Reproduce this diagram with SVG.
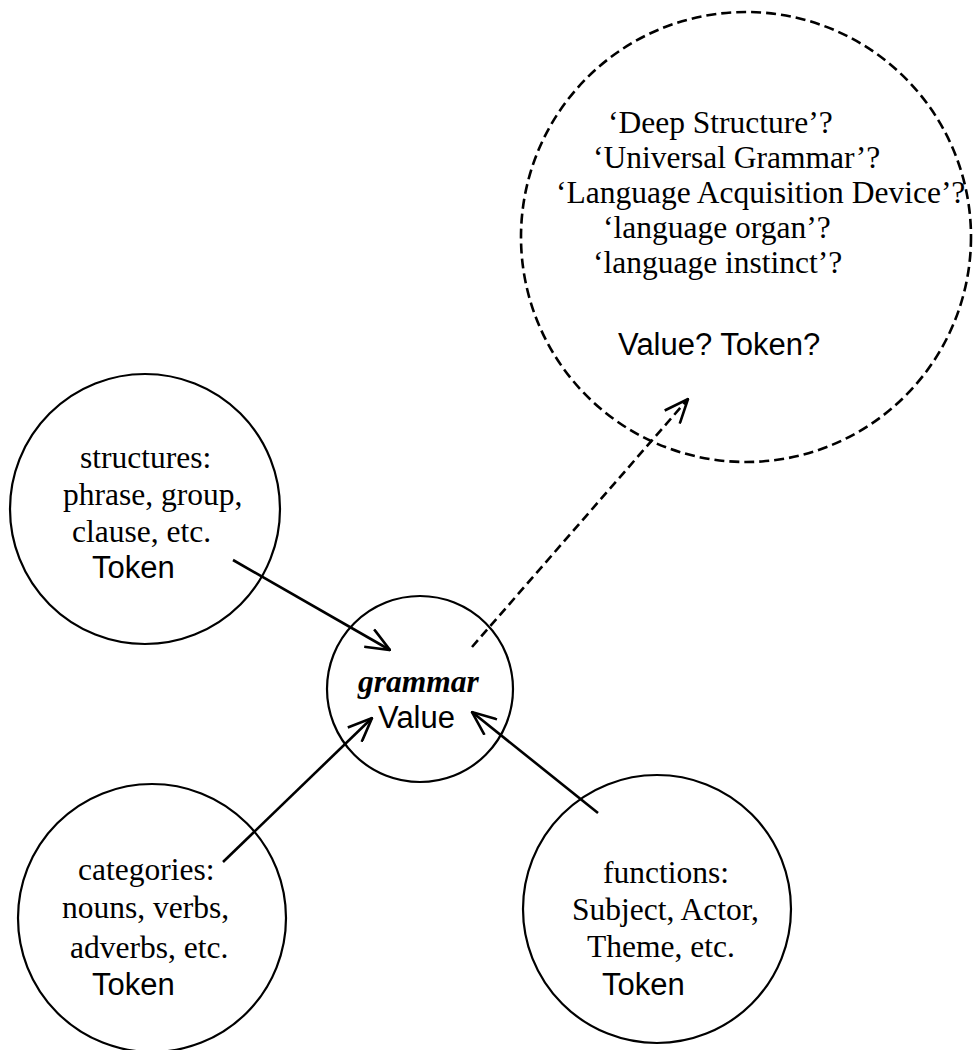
<svg xmlns="http://www.w3.org/2000/svg" width="973" height="1050" viewBox="0 0 973 1050">
<style>
.node{fill:none;stroke:#000;stroke-width:2.2}
.dnode{fill:none;stroke:#000;stroke-width:2.6;stroke-dasharray:10 5}
.serif{font-family:"Liberation Serif","Times New Roman",serif;font-size:31.5px;fill:#000}
.sans{font-family:"Liberation Sans",Arial,sans-serif;font-size:31px;fill:#000}
.bi{font-weight:bold;font-style:italic}
.conn{stroke:#000;stroke-width:2.6;fill:none;marker-end:url(#arr)}
.dconn{stroke:#000;stroke-width:2.6;fill:none;stroke-dasharray:9 5;marker-end:url(#arr)}
</style>
<defs>
<marker id="arr" viewBox="0 0 26 22" refX="25" refY="11" markerWidth="26" markerHeight="22" markerUnits="userSpaceOnUse" orient="auto">
<path d="M1,1 L25,11 L1,21" fill="none" stroke="#000" stroke-width="2.6"/>
</marker>
</defs>
<rect width="973" height="1050" fill="#fff"/>
<g id="connectors">
<line class="conn" x1="233" y1="560" x2="390" y2="650"/>
<line class="conn" x1="223" y1="862" x2="372" y2="718"/>
<line class="conn" x1="598" y1="813" x2="472" y2="712"/>
<line class="dconn" x1="472" y1="647" x2="688" y2="399"/>
</g>
<g id="node-ug">
<circle class="dnode" cx="746" cy="237" r="225"/>
<text class="serif" x="608" y="133">‘Deep Structure’?</text>
<text class="serif" x="593" y="168">‘Universal Grammar’?</text>
<text class="serif" x="556" y="203">‘Language Acquisition Device’?</text>
<text class="serif" x="603" y="238">‘language organ’?</text>
<text class="serif" x="593" y="273">‘language instinct’?</text>
<text class="sans" x="618" y="355">Value? Token?</text>
</g>
<g id="node-structures">
<circle class="node" cx="145" cy="509" r="135"/>
<text class="serif" x="80" y="468">structures:</text>
<text class="serif" x="63" y="505">phrase, group,</text>
<text class="serif" x="72" y="542">clause, etc.</text>
<text class="sans" x="92" y="578">Token</text>
</g>
<g id="node-grammar">
<circle class="node" cx="420" cy="689" r="93"/>
<text class="serif bi" x="358" y="692">grammar</text>
<text class="sans" x="378" y="728">Value</text>
</g>
<g id="node-categories">
<circle class="node" cx="152" cy="918" r="134"/>
<text class="serif" x="78" y="880">categories:</text>
<text class="serif" x="62" y="918">nouns, verbs,</text>
<text class="serif" x="70" y="958">adverbs, etc.</text>
<text class="sans" x="92" y="995">Token</text>
</g>
<g id="node-functions">
<circle class="node" cx="657" cy="909" r="134"/>
<text class="serif" x="603" y="883">functions:</text>
<text class="serif" x="572" y="920">Subject, Actor,</text>
<text class="serif" x="587" y="957">Theme, etc.</text>
<text class="sans" x="602" y="995">Token</text>
</g>
</svg>
